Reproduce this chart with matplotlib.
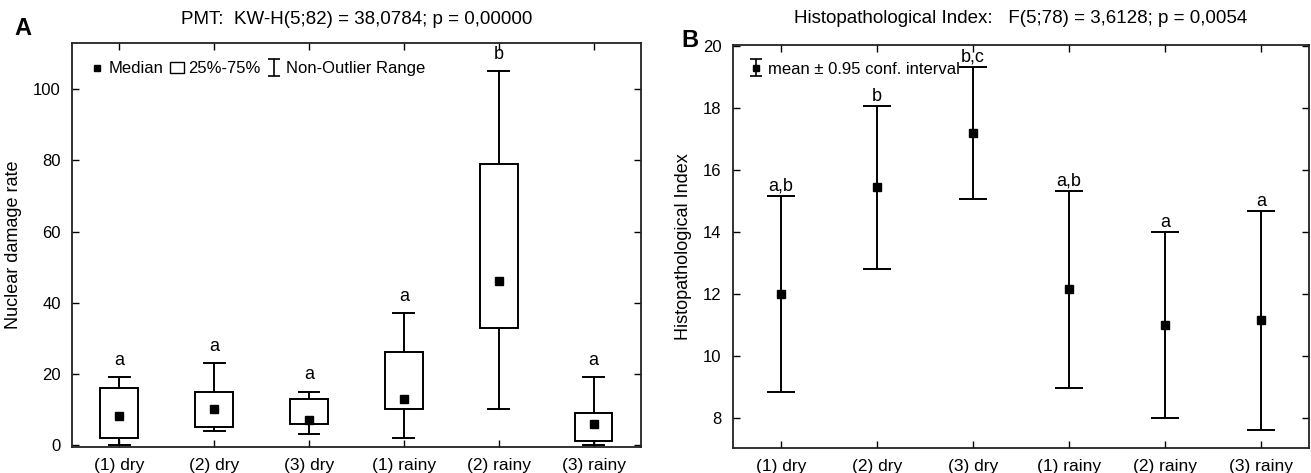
import matplotlib
matplotlib.use("Agg")
import numpy as np
import matplotlib.pyplot as plt
from matplotlib.patches import Patch
from matplotlib.lines import Line2D

# panel A: nuclear damage rate (median, quartiles, non-outlier range)
groups = ["(1) dry", "(2) dry", "(3) dry", "(1) rainy", "(2) rainy", "(3) rainy"]
a_median = [8, 10, 7, 13, 46, 6]
a_q1 = [2, 5, 6, 10, 33, 1]
a_q3 = [16, 15, 13, 26, 79, 9]
a_low = [0, 4, 3, 2, 10, 0]
a_high = [19, 23, 15, 37, 105, 19]
a_letters = ["a", "a", "a", "a", "b", "a"]

# panel B: histopathological index (mean and 95% CI)
b_mean = [12.0, 15.45, 17.2, 12.15, 11.0, 11.15]
b_low = [8.85, 12.8, 15.08, 8.97, 8.0, 7.62]
b_high = [15.18, 18.07, 19.35, 15.33, 14.0, 14.68]
b_letters = ["a,b", "b", "b,c", "a,b", "a", "a"]

narrow = ["Liberation Sans Narrow", "Liberation Sans", "DejaVu Sans"]
plt.rcParams["font.family"] = ["Liberation Sans", "DejaVu Sans"]

fig = plt.figure(figsize=(13.11, 4.73), dpi=100)
axA = fig.add_axes([0.0549, 0.055, 0.434, 0.854])
axB = fig.add_axes([0.559, 0.053, 0.4395, 0.852])

pos = list(range(1, len(groups) + 1))
lw = 1.4

# --- A: box plot
stats = []
for i in range(len(groups)):
    stats.append(dict(med=a_median[i], q1=a_q1[i], q3=a_q3[i],
                      whislo=a_low[i], whishi=a_high[i], fliers=[]))
axA.bxp(stats, positions=pos, widths=0.4, patch_artist=True,
        boxprops=dict(facecolor="white", edgecolor="black", linewidth=lw),
        whiskerprops=dict(color="black", linewidth=lw),
        capprops=dict(color="black", linewidth=lw),
        medianprops=dict(linewidth=0), capwidths=0.22)
axA.plot(pos, a_median, "s", color="black", markersize=6, zorder=5)
for x, y, t in zip(pos, a_high, a_letters):
    axA.annotate(t, (x, y), xytext=(0, 6), textcoords="offset points",
                 ha="center", va="bottom", fontsize=13)

axA.set_xlim(0.5, 6.5)
axA.set_ylim(-0.6, 113)
axA.set_yticks(range(0, 101, 20))
axA.set_ylabel("Nuclear damage rate", fontsize=13, labelpad=8)
axA.set_title("PMT:  KW-H(5;82) = 38,0784; p = 0,00000", fontsize=13.5, pad=14)

# legend proxies (nan data, nothing drawn in the axes)
whisk = axA.errorbar([np.nan], [np.nan], yerr=[1], fmt="none", ecolor="black",
                     elinewidth=1.2, capsize=4, capthick=1.2)
handlesA = [Line2D([], [], marker="s", color="black", linestyle="none", markersize=5),
            Patch(facecolor="white", edgecolor="black", linewidth=1),
            whisk]
axA.legend(handlesA, ["Median", "25%-75%", "Non-Outlier Range"], ncol=3,
           loc="upper left", frameon=False, handlelength=0.8,
           handletextpad=0.3, columnspacing=0.4, borderaxespad=0.7,
           prop={"family": narrow, "size": 12})

# --- B: mean and confidence interval
yerr = [[m - lo for m, lo in zip(b_mean, b_low)],
        [hi - m for m, hi in zip(b_mean, b_high)]]
axB.errorbar(pos, b_mean, yerr=yerr, fmt="s", color="black", markersize=6,
             elinewidth=lw, capsize=10, capthick=lw)
for x, y, t in zip(pos, b_high, b_letters):
    axB.annotate(t, (x, y), xytext=(0, 1), textcoords="offset points",
                 ha="center", va="bottom", fontsize=13)

ci = axB.errorbar([np.nan], [np.nan], yerr=[1], fmt="s", color="black",
                  markersize=5, elinewidth=1.2, capsize=4, capthick=1.2)
axB.legend([ci], ["mean \u00b1 0.95 conf. interval"], loc="upper left",
           frameon=False, handlelength=0.8, handletextpad=0.3,
           borderaxespad=0.6, prop={"family": narrow, "size": 12})

axB.set_xlim(0.5, 6.5)
axB.set_ylim(7.03, 20.05)
axB.set_yticks(range(8, 21, 2))
axB.set_ylabel("Histopathological Index", fontsize=13, labelpad=8)
axB.set_title("Histopathological Index:   F(5;78) = 3,6128; p = 0,0054", fontsize=13.5, pad=16)

for ax in (axA, axB):
    ax.set_xticks(pos)
    ax.set_xticklabels(groups, family=narrow, fontsize=12.5)
    for lab in ax.get_yticklabels():
        lab.set_family(narrow)
        lab.set_fontsize(12)
    ax.tick_params(direction="in", top=True, right=True, length=5, width=1,
                   pad=8)
    for s in ax.spines.values():
        s.set_linewidth(1.3)
        s.set_color("#222222")

fig.text(0.011, 0.925, "A", fontsize=17, fontweight="bold")
fig.text(0.520, 0.900, "B", fontsize=17, fontweight="bold")

fig.savefig("out.png", dpi=100)
